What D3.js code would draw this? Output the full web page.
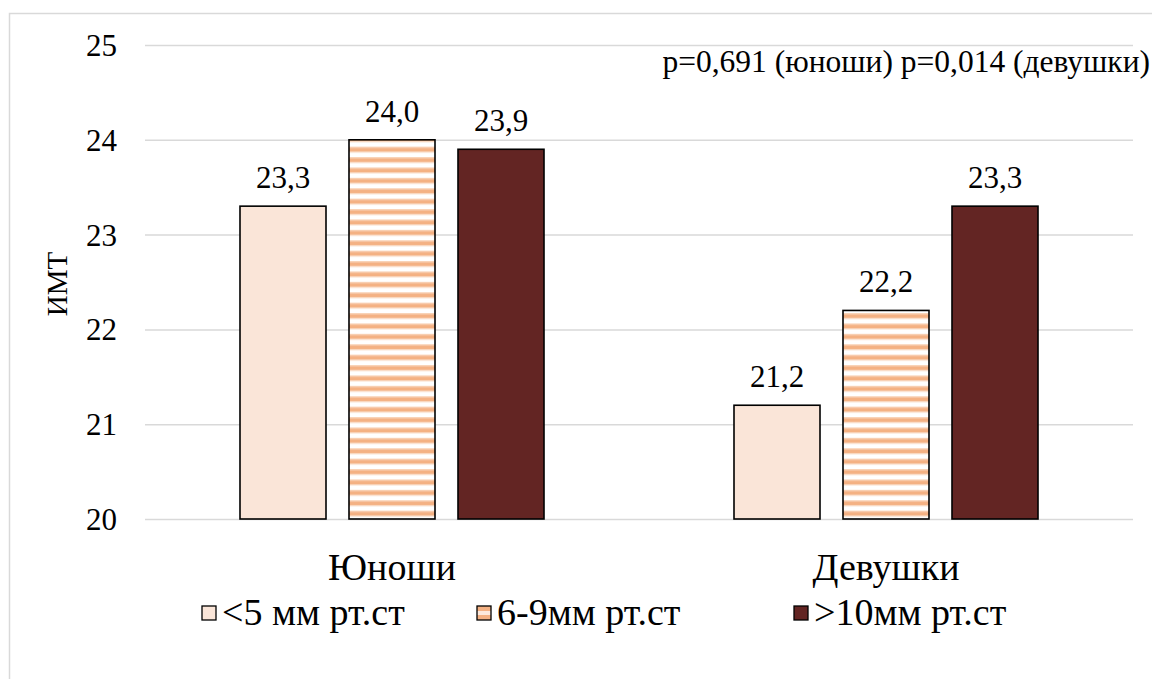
<!DOCTYPE html>
<html lang="ru">
<head>
<meta charset="utf-8">
<script src="https://cdn.jsdelivr.net/npm/d3@7"></script>
<style>
  html, body { margin: 0; padding: 0; background: #fff; }
</style>
</head>
<body>
<svg id="chart" width="1152" height="679"></svg>
<script>
// Groups along the x axis
const categories = ["Юноши", "Девушки"];
// Series (pressure ranges) and their mean BMI per group
const seriesNames = ["<5 мм рт.ст", "6-9мм рт.ст", ">10мм рт.ст"];
const seriesLow = [23.3, 21.2];
const seriesMid = [24.0, 22.2];
const seriesHigh = [23.9, 23.3];
const yTicks = [20, 21, 22, 23, 24, 25];
const axisTitle = "ИМТ";
const noteText = "p=0,691 (юноши) p=0,014 (девушки)";

const seriesValues = [seriesLow, seriesMid, seriesHigh];
const FONT = "Liberation Serif, Times New Roman, Times, serif";

const svg = d3.select("#chart");
const W = 1152, H = 679;
const margin = { left: 145, right: 19, top: 45, bottom: 160 };
const x0 = margin.left, x1 = W - margin.right;
const yTop = margin.top, yBot = H - margin.bottom;

// Outer chart border
svg.append("rect")
  .attr("x", 9.5).attr("y", 13.5)
  .attr("width", W + 10).attr("height", H + 10)
  .attr("fill", "#fff").attr("stroke", "#d9d9d9").attr("stroke-width", 1.5);

// Striped fill for the middle series
const defs = svg.append("defs");
const pat = defs.append("pattern")
  .attr("id", "stripes").attr("patternUnits", "userSpaceOnUse")
  .attr("x", 0).attr("y", 1)
  .attr("width", 10).attr("height", 10.4);
pat.append("rect").attr("width", 10).attr("height", 10.4).attr("fill", "#ffffff");
pat.append("rect").attr("y", 0).attr("width", 10).attr("height", 1.2).attr("fill", "#f9d3b8");
pat.append("rect").attr("y", 1.2).attr("width", 10).attr("height", 3.6).attr("fill", "#f4b183");
pat.append("rect").attr("y", 4.8).attr("width", 10).attr("height", 1.2).attr("fill", "#f9d3b8");

// Legend swatch stripes (coarser at this small size)
const lp = defs.append("pattern")
  .attr("id", "legstripes").attr("patternUnits", "userSpaceOnUse")
  .attr("x", 0).attr("y", 606).attr("width", 14).attr("height", 14);
lp.append("rect").attr("width", 14).attr("height", 14).attr("fill", "#f4b183");
lp.append("rect").attr("y", 5).attr("width", 14).attr("height", 4).attr("fill", "#fde9dc");

const fills = ["#fae5d8", "url(#stripes)", "#632523"];

const x = d3.scaleBand().domain(categories).range([x0, x1]).paddingInner(0).paddingOuter(0);
const y = d3.scaleLinear().domain([20, 25]).range([yBot, yTop]);

// Gridlines and tick labels via the axis generator
const yAxis = d3.axisLeft(y).tickValues(yTicks).tickSize(-(x1 - x0)).tickPadding(28)
  .tickFormat(d3.format("d"));
const gy = svg.append("g").attr("transform", `translate(${x0},0)`).call(yAxis)
  .attr("font-family", FONT).attr("font-size", 31);
gy.select(".domain").remove();
gy.selectAll(".tick line").attr("stroke", "#d9d9d9").attr("stroke-width", 1.5);
gy.selectAll(".tick text").attr("fill", "#000").attr("dy", "0.34em");

// Bars with value labels
const barW = 86, gap = 23;
const offsets = seriesNames.map((_, i) => (i - 1) * (barW + gap));
categories.forEach((c, ci) => {
  const cx = x(c) + x.bandwidth() / 2;
  seriesValues.forEach((vals, si) => {
    const v = vals[ci];
    const bx = cx + offsets[si] - barW / 2;
    svg.append("rect")
      .attr("x", bx).attr("y", y(v))
      .attr("width", barW).attr("height", y(20) - y(v))
      .attr("fill", fills[si]).attr("stroke", "#000").attr("stroke-width", 1.6);
    svg.append("text")
      .attr("x", cx + offsets[si]).attr("y", y(v) - 18)
      .attr("text-anchor", "middle").attr("font-family", FONT)
      .attr("font-size", 31).attr("fill", "#000")
      .text(d3.format(".1f")(v).replace(".", ","));
  });
});

// Category labels
svg.append("g").selectAll("text").data(categories).join("text")
  .attr("x", d => x(d) + x.bandwidth() / 2).attr("y", 580)
  .attr("text-anchor", "middle").attr("font-family", FONT)
  .attr("font-size", 38).attr("fill", "#000")
  .text(d => d);

// Y axis title
svg.append("text")
  .attr("transform", `translate(67,284) rotate(-90)`)
  .attr("text-anchor", "middle").attr("font-family", FONT)
  .attr("font-size", 29).attr("fill", "#000")
  .text(axisTitle);

// Significance note
svg.append("text")
  .attr("x", 1150).attr("y", 72)
  .attr("text-anchor", "end").attr("font-family", FONT)
  .attr("font-size", 31.5).attr("fill", "#000")
  .text(noteText);

// Legend
const legendX = [202, 477, 794];
const lg = svg.append("g");
seriesNames.forEach((name, i) => {
  lg.append("rect")
    .attr("x", legendX[i]).attr("y", 606)
    .attr("width", 14).attr("height", 14)
    .attr("fill", i === 1 ? "url(#legstripes)" : fills[i])
    .attr("stroke", "#000").attr("stroke-width", 1.3);
  lg.append("text")
    .attr("x", legendX[i] + 20).attr("y", 625)
    .attr("font-family", FONT)
    .attr("font-size", 38).attr("fill", "#000")
    .text(name);
});
</script>
</body>
</html>
